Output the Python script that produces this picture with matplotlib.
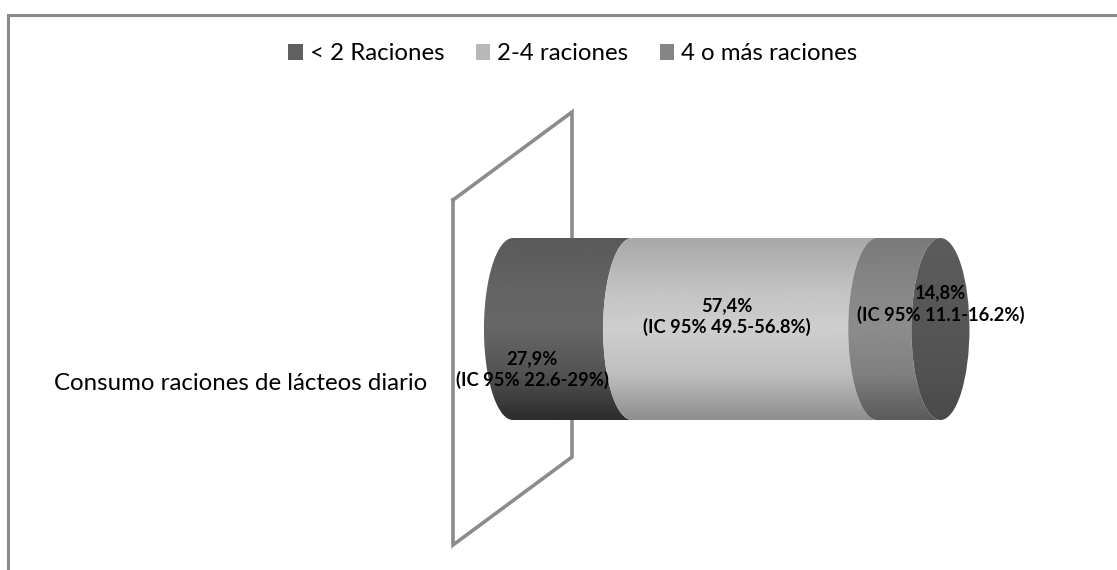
import numpy as np
import matplotlib
matplotlib.use("Agg")
import matplotlib.pyplot as plt
from matplotlib.patches import Patch, PathPatch, Ellipse
from matplotlib.path import Path
from matplotlib.lines import Line2D
import matplotlib.transforms as mtransforms

# --- data -------------------------------------------------------------
category = "Consumo raciones de lácteos diario"
series_names = ["< 2 Raciones", "2-4 raciones", "4 o más raciones"]
values = [27.9, 57.4, 14.8]          # percent
ci_low = [22.6, 49.5, 11.1]
ci_high = [29, 56.8, 16.2]

# --- styling ----------------------------------------------------------
W, H = 1117, 570
FONT = "Lato"
legend_colors = ["#606060", "#b8b8b8", "#858585"]
# vertical shading stops (top -> bottom) for each cylinder segment
shade_stops = [0.0, 0.3, 0.5, 0.75, 1.0]
shade_levels = [
    [90, 100, 103, 82, 44],
    [168, 196, 206, 190, 142],
    [122, 136, 140, 128, 90],
]
cap_levels = [92, 88, 86, 82, 74]
ell_half = 6.8                       # half-width of the end ellipses (value units)
label_x = [4.5, 50.1, 100.2]         # label anchors (value units)
label_y = [-0.225, 0.066, 0.137]

fig = plt.figure(figsize=(W / 100, H / 100), dpi=100)
fig.patch.set_facecolor("white")

# value axis: 0..100 % spans the cylinder length
x0_px, x1_px = 513, 940
top_px, bot_px = 238, 420
ax = fig.add_axes([x0_px / W, 1 - bot_px / H, (x1_px - x0_px) / W, (bot_px - top_px) / H])
ax.set_xlim(0, 100)
ax.set_ylim(-0.5, 0.5)
ax.axis("off")

# pixel-style transform for decorations (origin top-left)
px = mtransforms.Affine2D().scale(1 / W, -1 / H).translate(0, 1) + fig.transFigure

# outer frame
for xs, ys in [([8, W], [15, 15]), ([8, 8], [15, H])]:
    fig.add_artist(Line2D(xs, ys, transform=px, color="#8a8a8a", lw=2.2))

# back wall of the 3D plot area
wall_x = [453, 572, 572, 453, 453]
wall_y = [200, 112, 457, 545, 200]
ax.add_line(Line2D(wall_x, wall_y, transform=px, color="#8c8c8c", lw=2.6,
                   clip_on=False, zorder=1, solid_joinstyle="miter"))


def gradient_img(levels):
    yy = np.linspace(0, 1, 256)
    g = np.interp(yy, shade_stops, levels) / 255.0
    return np.repeat(g[:, None], 2, axis=1)


def half_ellipse(xc, top_to_bottom=True):
    t = np.linspace(np.pi / 2, 3 * np.pi / 2, 80)
    if not top_to_bottom:
        t = t[::-1]
    return np.column_stack([xc + ell_half * np.cos(t), 0.5 * np.sin(t)])


def shaded(clip_patch, levels, x_lo, x_hi, z):
    ax.add_patch(clip_patch)
    im = ax.imshow(gradient_img(levels), cmap="gray", vmin=0, vmax=1,
                   extent=(x_lo, x_hi, -0.5, 0.5), aspect="auto",
                   interpolation="bilinear", zorder=z)
    im.set_clip_path(clip_patch)
    im.set_clip_box(fig.bbox)


starts = np.concatenate([[0], np.cumsum(values)[:-1]])
ends = np.cumsum(values)

for i, (s, e) in enumerate(zip(starts, ends)):
    verts = np.vstack([half_ellipse(s, True), half_ellipse(e, False)])
    verts = np.vstack([verts, verts[:1]])
    codes = [Path.MOVETO] + [Path.LINETO] * (len(verts) - 2) + [Path.CLOSEPOLY]
    patch = PathPatch(Path(verts, codes), facecolor="none", edgecolor="none",
                      clip_on=False, zorder=3)
    shaded(patch, shade_levels[i], s - ell_half - 1, e + 1, 3)

# end cap
cap = Ellipse((ends[-1], 0), 2 * ell_half, 1.0, facecolor="none", edgecolor="none",
              clip_on=False, zorder=4)
shaded(cap, cap_levels, ends[-1] - ell_half - 1, ends[-1] + ell_half + 1, 4)
ax.set_xlim(0, 100)
ax.set_ylim(-0.5, 0.5)

# data labels
for v, lo, hi, lx, ly in zip(values, ci_low, ci_high, label_x, label_y):
    txt = f"{v:.1f}".replace(".", ",") + f"%\n(IC 95% {lo:g}-{hi:g}%)"
    ax.text(lx, ly, txt, ha="center", va="center", fontsize=13.2, fontweight="bold",
            family=FONT, color="black", linespacing=1.25, clip_on=False, zorder=6)

# category label
fig.text(427 / W, 1 - 384 / H, category, ha="right", va="center", fontsize=17.3,
         family=FONT, color="black")

# legend
handles = [Patch(facecolor=c, edgecolor="none") for c in legend_colors]
fig.legend(handles, series_names, loc="center", bbox_to_anchor=(573 / W, 1 - 54 / H),
           ncol=3, frameon=False, prop={"family": FONT, "size": 17.3},
           handlelength=0.6, handleheight=0.6, handletextpad=0.3, columnspacing=1.3)

fig.savefig("out.png", dpi=100, facecolor="white")
